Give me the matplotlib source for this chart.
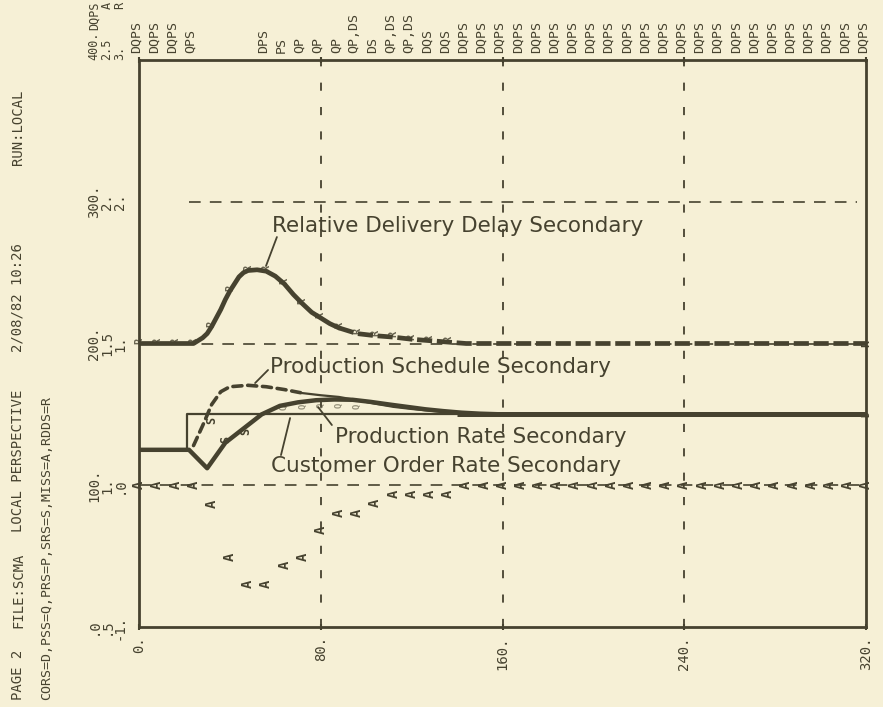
import matplotlib
matplotlib.use("Agg")
import matplotlib.pyplot as plt
import matplotlib.transforms as mtransforms

BG = "#f6f0d6"
INK = "#46422f"
MONO = "DejaVu Sans Mono"

# ---------------- data ----------------
time_ticks = [0, 80, 160, 240, 320]
time_tick_labels = ["0.", "80.", "160.", "240.", "320."]
primary_ticks = [0, 100, 200, 300, 400]
scale_primary = [".0", "100.", "200.", "300.", "400."]
scale_miss = [".5", "1.", "1.5", "2.", "2.5"]
scale_rdds = ["-1.", ".0", "1.", "2.", "3."]
scale_names = ["DQPS", "A", "R"]

# Relative Delivery Delay Secondary (R scale -1..3)
rdds_t = [0, 8, 16, 24, 28, 30, 32, 36, 38, 40, 44, 46, 48, 52, 56, 60, 64, 68, 72, 76, 80,
          84, 88, 92, 96, 104, 112, 120, 128, 136, 144, 152, 320]
rdds_v = [1.0, 1.0, 1.0, 1.0, 1.04, 1.07, 1.12, 1.24, 1.31, 1.37, 1.47, 1.50, 1.515, 1.52, 1.51,
          1.475, 1.42, 1.345, 1.28, 1.22, 1.18, 1.14, 1.11, 1.09, 1.07, 1.055, 1.045, 1.03,
          1.02, 1.01, 1.0, 1.0, 1.0]

# Customer Order Rate Secondary (D)
cors_t = [0, 21, 21, 320]
cors_v = [125, 125, 150, 150]

# Production rate (thick hand-drawn curve)
prs_t = [0, 22, 30, 38, 46, 54, 62, 70, 78, 86, 94, 102, 110, 118, 126, 134, 142, 150, 160, 320]
prs_v = [125, 125, 112, 130, 140, 150, 156, 158.5, 160, 160.5, 160.3, 158.8, 157, 155.3,
         153.6, 152.3, 151.2, 150.5, 150, 150]

# Production schedule (dashed hand-drawn curve)
pss_t = [24, 28, 32, 36, 40, 48, 56, 64, 72, 80, 88, 96, 104, 112, 120, 128, 136, 144, 152]
pss_v = [128, 142, 157, 166, 169.5, 170.5, 169.5, 167.5, 165, 163.5, 162.3, 160, 157.5,
         155.3, 153.8, 152.6, 151.5, 150.6, 150]

# printed S and P characters near the curves
s_mark_t = [32, 38, 47]
s_mark_v = [146, 132, 138]
p_mark_t = [64, 72, 80, 88, 96]
p_mark_v = [155, 156, 156.5, 156.5, 156]

# Missed shipments (A, scale .5..2.5)
miss_t = [0, 8, 16, 24, 32, 40, 48, 56, 64, 72, 80, 88, 96, 104, 112, 120, 128, 136,
          144, 152, 160, 168, 176, 184, 192, 200, 208, 216, 224, 232, 240, 248, 256, 264,
          272, 280, 288, 296, 304, 312, 320]
miss_v = [1.0, 1.0, 1.0, 1.0, 0.936, 0.746, 0.654, 0.654, 0.719, 0.746, 0.842, 0.903,
          0.903, 0.937, 0.969, 0.969, 0.969, 0.969] + [1.0] * 23

# overlap labels printed above the plot, one per plotted row
row_t = list(range(0, 321, 8))
row_labels = (["DQPS", "DQPS", "DQPS", "QPS", "", "", "", "DPS", "PS", "QP", "QP", "QP",
               "QP,DS", "DS", "QP,DS", "QP,DS", "DQS", "DQS"] + ["DQPS"] * 23)

header_texts = ["PAGE 2", "FILE:SCMA", "LOCAL PERSPECTIVE", "2/08/82 10:26", "RUN:LOCAL"]
header_bottom_px = [700, 628, 532, 352, 165]
legend_line = "CORS=D,PSS=Q,PRS=P,SRS=S,MISS=A,RDDS=R"

# annotations: text, text anchor (left, centre), leader start, leader end
ann_texts = ["Relative Delivery Delay Secondary", "Production Schedule Secondary",
             "Production Rate Secondary", "Customer Order Rate Secondary"]
ann_text_xy = [(58.5, 283), (57.7, 183.4), (86.3, 134), (58.1, 113.6)]
ann_lead_from = [(60.7, 275.1), (56.8, 181.3), (84.9, 142.5), (62.5, 121.3)]
ann_lead_to = [(55.9, 254.7), (51.1, 172.1), (78.8, 155.2), (66.5, 147.4)]

# ---------------- scale conversions ----------------
def r_to_primary(v):
    return (v + 1.0) * 100.0

def a_to_primary(v):
    return (v - 0.5) * 200.0

# ---------------- figure ----------------
W, H = 883, 707
fig = plt.figure(figsize=(W / 100, H / 100), dpi=100, facecolor=BG)
L, R_, T, B = 139, 866, 60, 627
ax = fig.add_axes([L / W, 1 - B / H, (R_ - L) / W, (B - T) / H])
ax.set_facecolor(BG)
ax.set_xlim(0, 320)
ax.set_ylim(0, 400)
for s in ax.spines.values():
    s.set_color(INK)
    s.set_linewidth(2.0)

ax.set_xticks(time_ticks)
ax.set_xticklabels(time_tick_labels, rotation=90, family=MONO, fontsize=10, color=INK)
ax.tick_params(axis="x", direction="inout", length=5, width=1.5, colors=INK, pad=4,
               top=True, labeltop=False)
ax.set_yticks([])

# grid lines (printer dashes)
for t in time_ticks[1:-1]:
    ax.axvline(t, color=INK, lw=1.3, linestyle=(0, (4.5, 9)), zorder=1)
ax.hlines(primary_ticks[1], 0, 320, color=INK, lw=1.2, linestyle=(0, (7, 5.5)), zorder=1)
ax.hlines(primary_ticks[2], 0, 320, color=INK, lw=1.2, linestyle=(0, (7, 5.5)), zorder=1)
ax.hlines(primary_ticks[3], 22, 316, color=INK, lw=1.2, linestyle=(0, (7, 5.5)), zorder=1)

# ---------------- curves ----------------
rp = [r_to_primary(v) for v in rdds_v]
split = rdds_t.index(88)
ax.plot(rdds_t[:split + 1], rp[:split + 1], color=INK, lw=3.4, solid_capstyle="round",
        solid_joinstyle="round", zorder=4)
ax.plot(rdds_t[split:], rp[split:], color=INK, lw=3.4, linestyle=(0, (3.2, 1.0)),
        dash_capstyle="butt", zorder=4)

ax.plot(cors_t, cors_v, color=INK, lw=1.6, zorder=3)
ax.plot(prs_t, prs_v, color=INK, lw=3.2, solid_capstyle="round",
        solid_joinstyle="round", zorder=4)
ax.plot(pss_t[:9], pss_v[:9], color=INK, lw=2.6, linestyle=(0, (2.5, 1.6)),
        dash_capstyle="round", zorder=4)
ax.plot(pss_t[8:], pss_v[8:], color=INK, lw=1.6, zorder=4)
ax.hlines(150, 140, 320, color=INK, lw=3.6, zorder=4)

# ---------------- printed characters ----------------
def char(t, v, c, size=8.5, alpha=1.0):
    ax.text(t, v, c, rotation=90, ha="center", va="center", family=MONO,
            fontsize=size, fontweight="bold", color=INK, alpha=alpha, zorder=5,
            clip_on=False)

for t, v in zip(miss_t, miss_v):
    char(t, a_to_primary(v), "A", 10)
for t, v in zip(rdds_t, rdds_v):
    if t % 8 == 0 and t <= 136:
        char(t, r_to_primary(v) + 2, "R", 7.5, 0.8)
char(rdds_t[-1], r_to_primary(rdds_v[-1]), "R", 8)
char(cors_t[-1], cors_v[-1], "D", 7)
for t, v in zip(s_mark_t, s_mark_v):
    char(t, v, "S", 8.5)
for t, v in zip(p_mark_t, p_mark_v):
    char(t, v, "Q", 6.5, 0.55)

# overlap labels at top
top_tr = mtransforms.blended_transform_factory(ax.transData, ax.transAxes) + \
    mtransforms.ScaledTranslation(-0.03, 0.07, fig.dpi_scale_trans)
for t, lab in zip(row_t, row_labels):
    if lab:
        ax.text(t, 1.0, lab, rotation=90, ha="center", va="bottom", family=MONO,
                fontsize=9.5, color=INK, transform=top_tr, clip_on=False)

# scale labels at left (three columns)
for col, (labels, dx) in enumerate(zip([scale_primary, scale_miss, scale_rdds],
                                         [-45, -32, -19])):
    tr = mtransforms.blended_transform_factory(ax.transAxes, ax.transData) + \
        mtransforms.ScaledTranslation(dx / 100, 0, fig.dpi_scale_trans)
    for v, lab in zip(primary_ticks[:-1], labels[:-1]):
        ax.text(0, v, lab, rotation=90, ha="center", va="center", family=MONO,
                fontsize=10, color=INK, transform=tr, clip_on=False)
    # the top label sits just above the frame, the variable letters above it
    ax.text(0, primary_ticks[-1], labels[-1], rotation=90, ha="center", va="bottom",
            family=MONO, fontsize=8.5, color=INK, transform=tr, clip_on=False)
    trn = mtransforms.blended_transform_factory(ax.transAxes, fig.transFigure) + \
        mtransforms.ScaledTranslation(dx / 100, -0.015, fig.dpi_scale_trans)
    ax.text(0, 1.0, scale_names[col], rotation=90, ha="center", va="top",
            family=MONO, fontsize=8.5, color=INK, transform=trn, clip_on=False)

# header lines
for txt, yb in zip(header_texts, header_bottom_px):
    fig.text(18 / W, 1 - yb / H, txt, rotation=90, ha="center", va="bottom",
             family=MONO, fontsize=10, color=INK)
fig.text(47 / W, 1 - 700 / H, legend_line, rotation=90, ha="center", va="bottom",
         family=MONO, fontsize=9.5, color=INK)

# hand-lettered annotations with leader lines
for txt, (tx, ty), p0, p1 in zip(ann_texts, ann_text_xy, ann_lead_from, ann_lead_to):
    ax.text(tx, ty, txt, fontsize=15.5, family="DejaVu Sans", color=INK, va="center",
            ha="left", zorder=6)
    ax.annotate("", xy=p1, xytext=p0,
                arrowprops=dict(arrowstyle="-", color=INK, lw=1.3, shrinkA=0, shrinkB=0),
                zorder=6)

fig.savefig("out.png", dpi=100, facecolor=BG)
